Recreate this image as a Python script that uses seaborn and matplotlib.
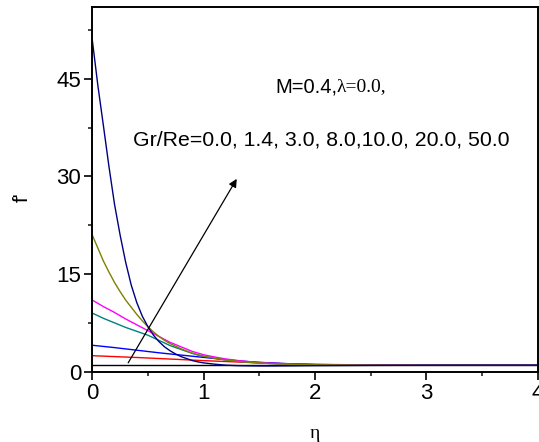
import numpy as np
import pandas as pd
import matplotlib
matplotlib.use("Agg")
import matplotlib.pyplot as plt
import seaborn as sns

sns.set_theme(style="white")
plt.rcParams['font.family'] = ['Liberation Sans', 'DejaVu Sans']
plt.rcParams['text.color'] = 'black'
plt.rcParams['axes.labelcolor'] = 'black'

eta = [0.0, 0.05, 0.1, 0.15, 0.2, 0.25, 0.3, 0.35, 0.4, 0.45, 0.5, 0.55, 0.6, 0.65, 0.7,
       0.75, 0.8, 0.85, 0.9, 0.95, 1.0, 1.1, 1.2, 1.3, 1.4, 1.5, 1.6, 1.7, 1.8, 1.9, 2.0,
       2.5, 3.0, 3.5, 4.0]
gr_labels = ["0.0", "1.4", "3.0", "8.0", "10.0", "20.0", "50.0"]
f_gr00 = [1.0] * 35
f_gr14 = [2.46, 2.42, 2.39, 2.35, 2.32, 2.28, 2.25, 2.21, 2.18, 2.14, 2.10, 2.06, 2.02, 1.98, 1.94,
          1.90, 1.86, 1.82, 1.78, 1.74, 1.70, 1.63, 1.56, 1.49, 1.42, 1.36, 1.30, 1.25, 1.20, 1.16, 1.12,
          1.04, 1.01, 1.0, 1.0]
f_gr30 = [4.06, 3.97, 3.88, 3.79, 3.70, 3.60, 3.50, 3.40, 3.30, 3.20, 3.10, 3.00, 2.90, 2.81, 2.72,
          2.63, 2.55, 2.46, 2.37, 2.28, 2.20, 2.02, 1.85, 1.69, 1.55, 1.44, 1.35, 1.27, 1.20, 1.15, 1.10,
          1.02, 1.0, 1.0, 1.0]
f_gr80 = [9.0, 8.6, 8.2, 7.85, 7.5, 7.15, 6.8, 6.5, 6.2, 5.9, 5.6, 5.2, 4.8, 4.4, 4.0,
          3.7, 3.4, 3.1, 2.8, 2.55, 2.35, 2.05, 1.8, 1.6, 1.45, 1.35, 1.25, 1.18, 1.12, 1.09, 1.06,
          1.01, 1.0, 1.0, 1.0]
f_gr100 = [11.0, 10.5, 10.0, 9.55, 9.1, 8.6, 8.1, 7.65, 7.2, 6.75, 6.3, 5.85, 5.4, 4.95, 4.5,
           4.15, 3.8, 3.45, 3.1, 2.85, 2.6, 2.25, 1.95, 1.73, 1.55, 1.42, 1.3, 1.22, 1.15, 1.11, 1.08,
           1.02, 1.0, 1.0, 1.0]
f_gr200 = [21.0, 19.0, 17.0, 15.3, 13.7, 12.3, 11.0, 9.9, 8.8, 7.8, 6.9, 6.1, 5.4, 4.8, 4.3,
           3.9, 3.5, 3.15, 2.85, 2.6, 2.4, 2.07, 1.8, 1.6, 1.45, 1.35, 1.25, 1.18, 1.13, 1.1, 1.07,
           1.02, 1.0, 1.0, 1.0]
f_gr500 = [51.0, 44.0, 37.8, 31.5, 25.7, 21.0, 16.8, 13.3, 10.6, 8.5, 6.9, 5.6, 4.6, 3.8, 3.2,
           2.7, 2.3, 2.0, 1.7, 1.5, 1.35, 1.15, 1.0, 0.93, 0.9, 0.88, 0.88, 0.89, 0.9, 0.92, 0.93,
           0.97, 0.99, 1.0, 1.0]
colors = ["#000000", "#ff0000", "#0000ff", "#008080", "#ff00ff", "#808000", "#000080"]

series = [f_gr00, f_gr14, f_gr30, f_gr80, f_gr100, f_gr200, f_gr500]
df = pd.DataFrame({
    "eta": np.tile(eta, len(series)),
    "f": np.concatenate(series),
    "gr": np.repeat(gr_labels, len(eta)),
})

fig = plt.figure(figsize=(5.39, 4.42), dpi=100)
ax = fig.add_axes([0.1712, 0.1591, 0.8264, 0.8244])
sns.lineplot(data=df, x="eta", y="f", hue="gr", palette=dict(zip(gr_labels, colors)),
             hue_order=gr_labels, ax=ax, linewidth=1.0, legend=False, sort=False)

ax.set_xlim(0, 4)
ax.set_ylim(0, 56)
ax.set_xticks([0, 1, 2, 3, 4])
ax.set_xticks([0.5, 1.5, 2.5, 3.5], minor=True)
ax.set_yticks([0, 15, 30, 45])
ax.set_yticks([7.5, 22.5, 37.5, 52.5], minor=True)
ax.tick_params(which='major', direction='out', length=6, width=1.2, labelsize=16, colors='black',
               bottom=True, left=True, top=False, right=False, pad=2)
ax.tick_params(which='minor', direction='out', length=3, width=1.2, bottom=True, left=True,
               top=False, right=False)
for s in ax.spines.values():
    s.set_linewidth(1.4)
    s.set_color('black')

ax.set_xlabel("η", family=['Liberation Serif'], fontsize=14, color='black')
ax.xaxis.set_label_coords(0.5, -0.145)
ax.set_ylabel("f'", fontsize=15, color='black')
ax.yaxis.set_label_coords(-0.135, 0.479)

ax.annotate("", xy=(1.31, 30.0), xytext=(0.31, 1.0),
            arrowprops=dict(arrowstyle="-|>", color="black", lw=0.9, mutation_scale=12))

t1 = ax.text(1.64, 43.8, "M=0.4,", fontsize=14.5, va='center', ha='left', color='black')
ax.annotate("λ=0.0,", xy=(1.0, 0.5), xycoords=t1, va='center', ha='left', color='black',
            fontsize=14, family=['Liberation Serif', 'DejaVu Serif'])
ax.text(0.37, 35.6, "Gr/Re=0.0, 1.4, 3.0, 8.0,10.0, 20.0, 50.0", fontsize=15.3, va='center',
        ha='left', color='black')

fig.savefig("out.png", dpi=100)
